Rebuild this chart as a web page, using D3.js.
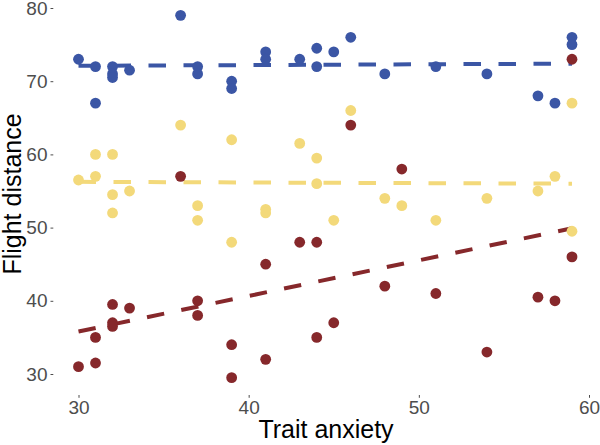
<!DOCTYPE html>
<html>
<head>
<meta charset="utf-8">
<script src="https://cdn.jsdelivr.net/npm/d3@7"></script>
<style>
  body { margin: 0; background: #fff; }
  svg { display: block; font-family: "Liberation Sans", Arial, sans-serif; }
</style>
</head>
<body>
<div id="chart"></div>
<script>
// trait anxiety (x) and flight distance (y), one array pair per condition
var blueX = [30, 31, 31, 32, 32, 32, 33, 36, 37, 37, 39, 39, 41, 41, 43, 44, 44, 45, 46, 48, 51, 54, 57, 58, 59, 59];
var blueY = [73, 72, 67, 72, 71, 70.5, 71.5, 79, 72, 71, 70, 69, 74, 73, 73, 74.5, 72, 74, 76, 71, 72, 71, 68, 67, 76, 75];

var yellowX = [30, 31, 31, 32, 32, 32, 33, 36, 37, 37, 39, 39, 41, 41, 43, 44, 44, 45, 46, 48, 49, 51, 54, 57, 58, 59, 59];
var yellowY = [56.5, 60, 57, 60, 54.5, 52, 55, 64, 53, 51, 62, 48, 52.5, 52, 61.5, 59.5, 56, 51, 66, 54, 53, 51, 54, 55, 57, 67, 49.5];

var redX = [30, 31, 31, 32, 32, 32, 33, 36, 37, 37, 39, 39, 41, 41, 43, 44, 44, 45, 46, 48, 49, 51, 54, 57, 58, 59, 59];
var redY = [31, 35, 31.5, 39.5, 37, 36.5, 39, 57, 40, 38, 34, 29.5, 45, 32, 48, 48, 35, 37, 64, 42, 58, 41, 33, 40.5, 40, 73, 46];

// fitted lines, value at x = 30 and x = 59
var fitX = [30, 59];
var blueFit = [72.1, 72.4];
var yellowFit = [56.25, 56.0];
var redFit = [35.8, 49.9];

var xTicks = [30, 40, 50, 60];
var yTicks = [30, 40, 50, 60, 70, 80];

var series = [
  { xs: blueX, ys: blueY, fit: blueFit, color: "#3b56a5" },
  { xs: yellowX, ys: yellowY, fit: yellowFit, color: "#f3d97a" },
  { xs: redX, ys: redY, fit: redFit, color: "#86282b" }
];

var width = 600, height = 445;

var svg = d3.select("#chart")
  .append("svg")
  .attr("width", width)
  .attr("height", height);

var x = d3.scaleLinear().domain([30, 60]).range([78.5, 589]);
var y = d3.scaleLinear().domain([30, 80]).range([374, 8]);

// axes: no domain line, short grey ticks
svg.append("g")
  .attr("transform", "translate(0,395)")
  .call(d3.axisBottom(x).tickValues(xTicks).tickSize(2.8).tickPadding(3))
  .call(function (g) { g.select(".domain").remove(); })
  .call(function (g) {
    g.selectAll(".tick line").attr("stroke", "#4d4d4d").attr("stroke-width", 1);
    g.selectAll(".tick text")
      .attr("fill", "#4d4d4d")
      .style("font-size", "19px")
      .attr("dy", "0.71em");
  });

svg.append("g")
  .attr("transform", "translate(53.3,0)")
  .call(d3.axisLeft(y).tickValues(yTicks).tickSize(2.8).tickPadding(3))
  .call(function (g) { g.select(".domain").remove(); })
  .call(function (g) {
    g.selectAll(".tick line").attr("stroke", "#4d4d4d").attr("stroke-width", 1);
    g.selectAll(".tick text")
      .attr("fill", "#4d4d4d")
      .style("font-size", "19px");
  });

// fitted dashed lines
series.forEach(function (s) {
  svg.append("line")
    .attr("x1", x(fitX[0]))
    .attr("y1", y(s.fit[0]))
    .attr("x2", x(fitX[1]))
    .attr("y2", y(s.fit[1]))
    .attr("stroke", s.color)
    .attr("stroke-width", 4)
    .attr("stroke-dasharray", "17.5,17.5");
});

// points
series.forEach(function (s) {
  svg.append("g")
    .selectAll("circle")
    .data(d3.range(s.xs.length))
    .enter()
    .append("circle")
    .attr("cx", function (i) { return x(s.xs[i]); })
    .attr("cy", function (i) { return y(s.ys[i]); })
    .attr("r", 5.4)
    .attr("fill", s.color);
});

// axis titles
svg.append("text")
  .attr("x", 326)
  .attr("y", 438)
  .attr("text-anchor", "middle")
  .style("font-size", "25px")
  .attr("fill", "#000")
  .text("Trait anxiety");

svg.append("text")
  .attr("transform", "translate(21,194) rotate(-90)")
  .attr("text-anchor", "middle")
  .style("font-size", "25px")
  .attr("fill", "#000")
  .text("Flight distance");
</script>
</body>
</html>
